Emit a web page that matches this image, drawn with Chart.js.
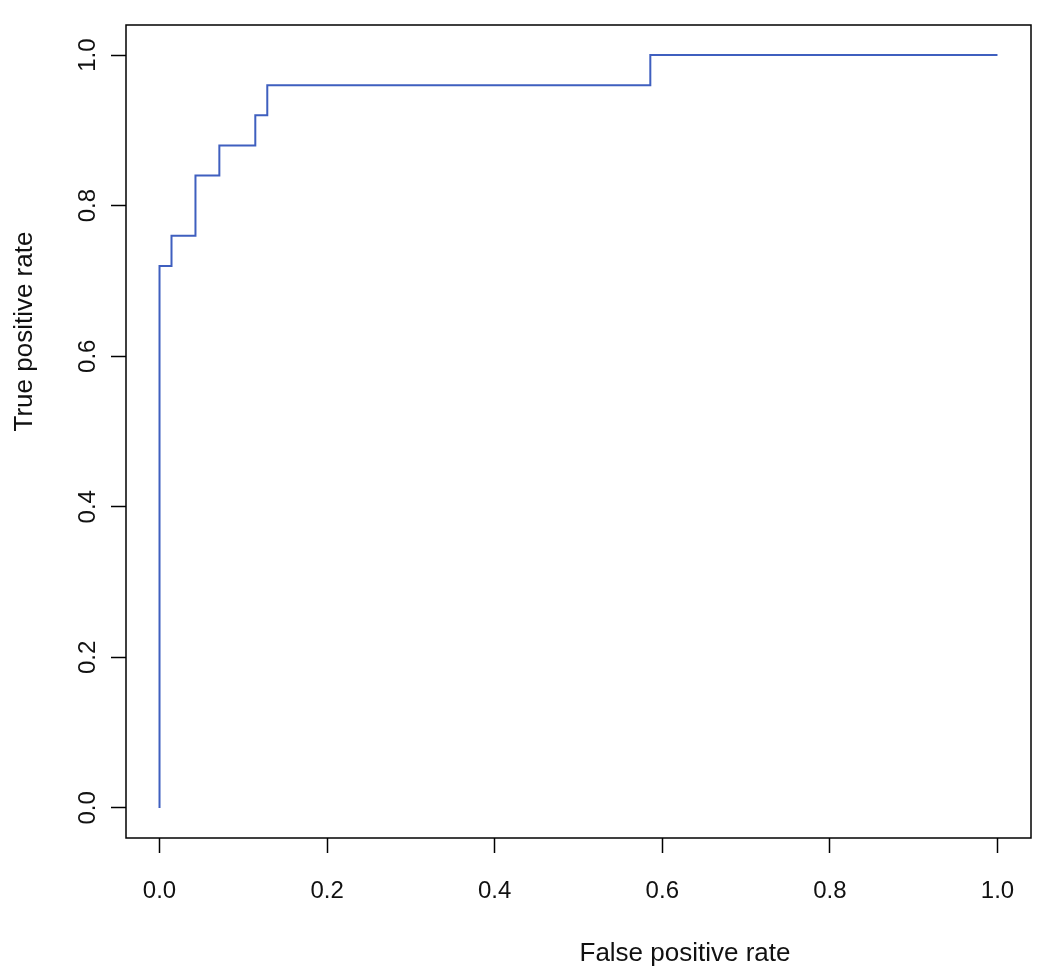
<!DOCTYPE html>
<html>
<head>
<meta charset="utf-8">
<script src="https://cdn.jsdelivr.net/npm/chart.js@4"></script>
<style>
  html, body { margin: 0; padding: 0; background: #fff; }
  #wrap { width: 1050px; height: 975px; }
</style>
</head>
<body>
<div id="wrap"><canvas id="roc"></canvas></div>
<script>
// ROC curve points
const fpr = [0, 0, 0.0143, 0.0429, 0.0714, 0.1143, 0.1286, 0.5857, 1.0];
const tpr = [0, 0.72, 0.76, 0.84, 0.88, 0.92, 0.96, 1.0, 1.0];
const tickValues = [0, 0.2, 0.4, 0.6, 0.8, 1.0];
const tickLabels = ["0.0", "0.2", "0.4", "0.6", "0.8", "1.0"];
const xTitle = "False positive rate";
const yTitle = "True positive rate";

const tickFont = "24px 'Liberation Sans', Arial, sans-serif";
const titleFont = "26px 'Liberation Sans', Arial, sans-serif";

// box around plot, tick labels and axis titles (R style)
const rStyle = {
  id: "rStyle",
  afterDraw(chart) {
    const ctx = chart.ctx;
    const a = chart.chartArea;
    const xs = chart.scales.x;
    const ys = chart.scales.y;
    ctx.save();
    ctx.strokeStyle = "#000";
    ctx.lineWidth = 1.5;
    ctx.strokeRect(a.left, a.top, a.right - a.left, a.bottom - a.top);

    ctx.fillStyle = "#111";
    ctx.font = tickFont;
    // x tick labels
    ctx.textAlign = "center";
    ctx.textBaseline = "alphabetic";
    tickValues.forEach((v, i) => {
      ctx.fillText(tickLabels[i], xs.getPixelForValue(v), a.bottom + 60);
    });
    // y tick labels, rotated
    tickValues.forEach((v, i) => {
      ctx.save();
      ctx.translate(a.left - 31, ys.getPixelForValue(v));
      ctx.rotate(-Math.PI / 2);
      ctx.fillText(tickLabels[i], 0, 0);
      ctx.restore();
    });
    // axis titles
    ctx.font = titleFont;
    ctx.textAlign = "left";
    ctx.fillText(xTitle, (a.left + a.right) / 2 + 1, a.bottom + 123);
    ctx.save();
    ctx.translate(a.left - 94, (a.top + a.bottom) / 2);
    ctx.rotate(-Math.PI / 2);
    ctx.fillText(yTitle, 0, 0);
    ctx.restore();
    ctx.restore();
  }
};

const axisOpts = {
  type: "linear",
  min: -0.04,
  max: 1.04,
  afterBuildTicks: (scale) => { scale.ticks = tickValues.map((v) => ({ value: v })); },
  grid: {
    drawOnChartArea: false,
    drawTicks: true,
    tickLength: 15,
    tickWidth: 1.5,
    tickColor: "#000"
  },
  border: { display: false },
  ticks: { display: false }
};

new Chart(document.getElementById("roc"), {
  type: "line",
  data: {
    datasets: [{
      data: fpr.map((x, i) => ({ x: x, y: tpr[i] })),
      borderColor: "#3f5fbf",
      borderWidth: 2,
      pointRadius: 0,
      stepped: "before",
      fill: false
    }]
  },
  options: {
    responsive: true,
    maintainAspectRatio: false,
    animation: false,
    layout: { padding: { left: 0, top: 25, right: 19, bottom: 0 } },
    plugins: { legend: { display: false }, tooltip: { enabled: false } },
    scales: {
      x: Object.assign({}, axisOpts, { afterFit: (s) => { s.height = 137; } }),
      y: Object.assign({}, axisOpts, { afterFit: (s) => { s.width = 126; } })
    }
  },
  plugins: [rStyle]
});
</script>
</body>
</html>
